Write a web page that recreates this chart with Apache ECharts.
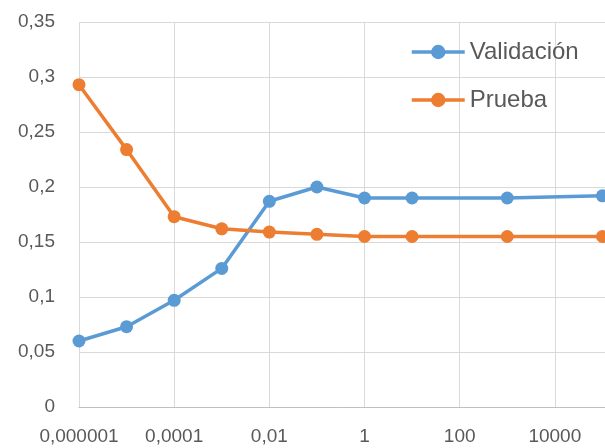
<!DOCTYPE html>
<html>
<head>
<meta charset="utf-8">
<script src="https://cdn.jsdelivr.net/npm/echarts@6/dist/echarts.min.js"></script>
<style>
    html, body { margin: 0; padding: 0; background: #fff; }
    #chart { width: 605px; height: 448px; }
</style>
</head>
<body>
<div id="chart"></div>
<script>
    // valores
    const xValues = [0.000001, 0.00001, 0.0001, 0.001, 0.01, 0.1, 1, 10, 1000, 100000];
    const validacion = [0.060, 0.073, 0.097, 0.126, 0.187, 0.200, 0.190, 0.190, 0.190, 0.192];
    const prueba = [0.293, 0.234, 0.173, 0.162, 0.159, 0.157, 0.155, 0.155, 0.155, 0.155];
    const xTickLabels = ['0,000001', '0,0001', '0,01', '1', '100', '10000', '1000000'];

    const myChart = echarts.init(document.getElementById('chart'));
    const font = '"Liberation Sans", Arial, sans-serif';
    const labelColor = '#595959';

    const pairs = (ys) => xValues.map((x, i) => [x, ys[i]]);

    const option = {
        animation: false,
        color: ['#5B9BD5', '#ED7D31'],
        grid: {
            left: 79,
            top: 22,
            width: 571,
            bottom: 41,
            containLabel: false,
            outerBoundsMode: 'none'
        },
        legend: {
            orient: 'vertical',
            left: 405,
            top: 33,
            itemWidth: 53,
            itemHeight: 18,
            itemGap: 20,
            lineStyle: { width: 3.5 },
            textStyle: {
                fontFamily: font,
                fontSize: 24,
                lineHeight: 28,
                color: labelColor
            },
            data: ['Validación', 'Prueba']
        },
        xAxis: {
            type: 'log',
            logBase: 100,
            min: 0.000001,
            max: 1000000,
            axisLine: { show: true, lineStyle: { color: '#BFBFBF', width: 1 } },
            axisTick: { show: false },
            minorTick: { show: false },
            splitLine: { show: true, lineStyle: { color: '#D9D9D9', width: 1 } },
            axisLabel: {
                margin: 20,
                fontFamily: font,
                fontSize: 19,
                color: labelColor,
                formatter: function (v) {
                    const idx = Math.round((Math.log10(v) + 6) / 2);
                    return xTickLabels[idx] || '';
                }
            }
        },
        yAxis: {
            type: 'value',
            min: 0,
            max: 0.35,
            interval: 0.05,
            axisLine: { show: false },
            axisTick: { show: false },
            splitLine: { show: true, lineStyle: { color: '#D9D9D9', width: 1 } },
            axisLabel: {
                margin: 24,
                fontFamily: font,
                fontSize: 19,
                color: labelColor,
                formatter: function (v) {
                    return String(+v.toFixed(2)).replace('.', ',');
                }
            }
        },
        series: [
            {
                name: 'Validación',
                type: 'line',
                data: pairs(validacion),
                symbol: 'circle',
                symbolSize: 13,
                lineStyle: { width: 3.5 }
            },
            {
                name: 'Prueba',
                type: 'line',
                data: pairs(prueba),
                symbol: 'circle',
                symbolSize: 13,
                lineStyle: { width: 3.5 }
            }
        ]
    };
    myChart.setOption(option);
</script>
</body>
</html>
